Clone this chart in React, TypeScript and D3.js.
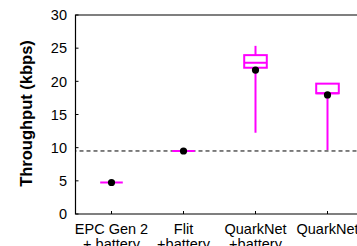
import React from 'react';
import * as d3 from 'd3';

// categories (two-line labels)
const categories = ['EPC Gen 2|+ battery', 'Flit|+battery', 'QuarkNet|+battery', 'QuarkNet|'];
// box stats per category: [whiskerLow, q1, median, q3, whiskerHigh]
const boxStats: [number, number, number, number, number][] = [
  [4.75, 4.75, 4.75, 4.75, 4.75],
  [9.5, 9.5, 9.5, 9.5, 9.5],
  [12.25, 22.05, 22.8, 23.95, 25.35],
  [9.65, 18.2, 18.2, 19.65, 19.65],
];
const means = [4.75, 9.5, 21.7, 17.95];
const yTicks = [0, 5, 10, 15, 20, 25, 30];
const refLine = 9.5;

const W = 357;
const H = 246;
const margin = { left: 75.5, top: 15, bottom: 32 };

const App: React.FC = () => {
  const x = d3.scaleLinear().domain([0.5, 4.5]).range([margin.left, margin.left + 288]);
  const y = d3.scaleLinear().domain([0, 30]).range([H - margin.bottom, margin.top]);
  const boxHalf = 11.3;
  const magenta = '#ff00ff';
  const font = 'Liberation Sans, Arial, Helvetica, sans-serif';

  return (
    <svg width={W} height={H} style={{ position: 'absolute', left: 0, top: 0, background: '#fff' }}>
      {/* reference dashed line */}
      <line x1={x(0.5)} x2={W} y1={y(refLine)} y2={y(refLine)}
        stroke="#000" strokeWidth={1} strokeDasharray="4,3" strokeDashoffset={-4} />

      {/* boxes */}
      {boxStats.map((s, i) => {
        const cx = x(i + 1);
        const [lo, q1, med, q3, hi] = s;
        if (q1 === q3) {
          return (
            <line key={i} x1={cx - boxHalf} x2={cx + boxHalf} y1={y(med)} y2={y(med)}
              stroke={magenta} strokeWidth={2} />
          );
        }
        return (
          <g key={i} stroke={magenta} strokeWidth={2} fill="none">
            <line x1={cx} x2={cx} y1={y(q1)} y2={y(lo)} />
            {hi > q3 && <line x1={cx} x2={cx} y1={y(q3)} y2={y(hi)} />}
            <rect x={cx - boxHalf} y={y(q3)} width={boxHalf * 2} height={y(q1) - y(q3)} />
            <line x1={cx - boxHalf} x2={cx + boxHalf} y1={y(med)} y2={y(med)} />
          </g>
        );
      })}

      {/* mean dots */}
      {means.map((m, i) => (
        <circle key={i} cx={x(i + 1)} cy={y(m)} r={3.6} fill="#000" />
      ))}

      {/* frame */}
      <path d={`M${x(4.5)},${y(30)} H${x(0.5)} V${y(0)} H${x(4.5)}`} fill="none" stroke="#000" strokeWidth={1.2} />

      {/* y ticks */}
      {yTicks.map(t => (
        <g key={t}>
          <line x1={x(0.5)} x2={x(0.5) + 3} y1={y(t)} y2={y(t)} stroke="#000" />
          <text x={x(0.5) - 8.5} y={y(t)} dy="0.36em" textAnchor="end"
            fontFamily={font} fontSize={14.5} fill="#000">{t}</text>
        </g>
      ))}

      {/* x ticks and labels */}
      {categories.map((c, i) => {
        const cx = x(i + 1);
        const [l1, l2] = c.split('|');
        return (
          <g key={i}>
            <line x1={cx} x2={cx} y1={y(0)} y2={y(0) - 3} stroke="#000" />
            <text x={cx} y={y(0) + 19.5} textAnchor="middle" fontFamily={font} fontSize={14.5} fill="#000">{l1}</text>
            {l2 && <text x={cx} y={y(0) + 34.5} textAnchor="middle" fontFamily={font} fontSize={14.5} fill="#000">{l2}</text>}
          </g>
        );
      })}

      {/* y axis title */}
      <text transform={`translate(26,${(y(0) + y(30)) / 2 - 1}) rotate(-90)`} dy="0.36em"
        textAnchor="middle" fontFamily={font} fontSize={16.5} fontWeight="bold" fill="#000">
        Throughput (kbps)
      </text>
    </svg>
  );
};

export default App;
